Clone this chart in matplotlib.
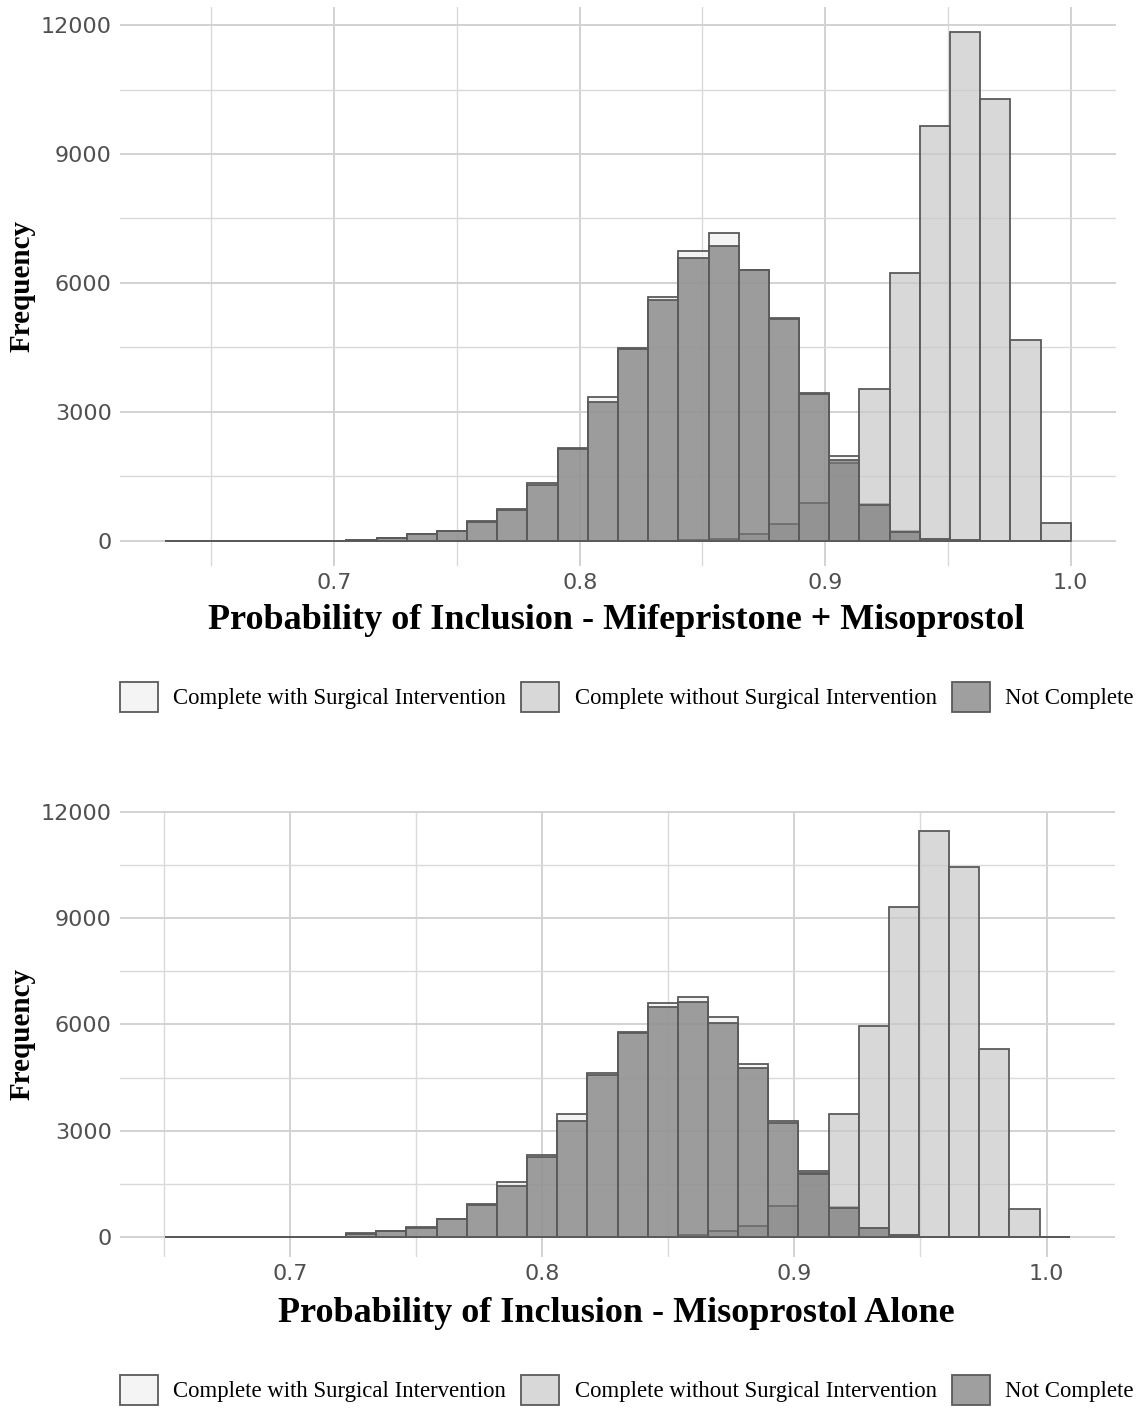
import matplotlib.pyplot as plt
import numpy as np
from matplotlib.colors import to_rgba
from matplotlib.patches import Patch

# 30-bin histogram counts
groups = ['Complete with Surgical Intervention',
          'Complete without Surgical Intervention',
          'Not Complete']

# Mifepristone + Misoprostol
mife_range = (0.6312, 1.0)
mife_surg = [0, 0, 0, 0, 0, 2, 8, 52, 155, 225, 450, 730, 1340, 2150, 3340,
             4480, 5680, 6730, 7160, 6310, 5190, 3440, 1980, 850, 215, 45, 5, 0, 0, 0]
mife_nosurg = [0, 0, 0, 0, 0, 0, 0, 0, 0, 0, 0, 0, 0, 0, 0,
               0, 0, 5, 40, 156, 380, 875, 1800, 3540, 6230, 9660, 11830, 10280, 4680, 410]
mife_notcomp = [0, 0, 0, 0, 0, 2, 8, 50, 150, 220, 440, 720, 1290, 2130, 3220,
                4460, 5610, 6580, 6860, 6290, 5170, 3420, 1880, 830, 210, 45, 5, 0, 0, 0]

# Misoprostol alone
miso_range = (0.6505, 1.0092)
miso_surg = [0, 0, 0, 0, 0, 3, 95, 160, 263, 510, 915, 1540, 2300, 3460, 4630,
             5790, 6600, 6770, 6200, 4890, 3265, 1850, 830, 245, 45, 5, 0, 0, 0, 0]
miso_nosurg = [0, 0, 0, 0, 0, 0, 0, 0, 0, 0, 0, 0, 0, 0, 0,
               0, 0, 40, 170, 300, 860, 1800, 3470, 5950, 9330, 11460, 10450, 5300, 770, 0]
miso_notcomp = [0, 0, 0, 0, 0, 3, 90, 150, 255, 500, 905, 1430, 2250, 3260, 4580,
                5760, 6500, 6640, 6050, 4770, 3220, 1770, 815, 240, 45, 5, 0, 0, 0, 0]

x_major = [0.7, 0.8, 0.9, 1.0]
x_minor = [0.65, 0.75, 0.85, 0.95]
y_major = [0, 3000, 6000, 9000, 12000]
y_minor = [1500, 4500, 7500, 10500]

fills = ['#f0f0f0', '#c8c8c8', '#777777']
alpha = 0.7
edge = '#5a5a5a'
serif = 'Liberation Serif'


def draw_panel(ax, rng, series, xlabel, title_y):
    n = len(series[0])
    edges = np.linspace(rng[0], rng[1], n + 1)
    for counts, fc in zip(series, fills):
        ax.bar(edges[:-1], counts, width=np.diff(edges), align='edge',
               facecolor=to_rgba(fc, alpha), edgecolor=edge, linewidth=1.3)

    xpad = 0.05 * (rng[1] - rng[0])
    ymax = max(max(s) for s in series)
    ax.set_xlim(rng[0] - xpad, rng[1] + xpad)
    ax.set_ylim(-0.05 * ymax, 1.05 * ymax)

    ax.set_xticks(x_major)
    ax.set_xticklabels(['%.1f' % v for v in x_major])
    ax.set_xticks(x_minor, minor=True)
    ax.set_yticks(y_major)
    ax.set_yticks(y_minor, minor=True)
    ax.grid(which='major', color='#d2d2d2', linewidth=1.4)
    ax.grid(which='minor', color='#dadada', linewidth=1.0)
    ax.set_axisbelow(True)
    for s in ax.spines.values():
        s.set_visible(False)
    ax.tick_params(which='both', length=0)
    ax.tick_params(axis='x', pad=5, labelsize=16, labelcolor='#505050')
    ax.tick_params(axis='y', pad=6, labelsize=16, labelcolor='#505050')

    ax.set_ylabel('Frequency', family=serif, fontweight='bold', fontsize=21)
    ax.yaxis.set_label_coords(-0.085, 0.5)
    ax.set_xlabel(xlabel, family=serif, fontweight='bold', fontsize=26)
    ax.xaxis.set_label_coords(0.4985, title_y)


fig = plt.figure(figsize=(11.4, 14.1), dpi=100)
W, H = 1140, 1410

ax1 = fig.add_axes([120 / W, (H - 566) / H, 996 / W, 559 / H])
draw_panel(ax1, mife_range, [mife_surg, mife_nosurg, mife_notcomp],
           'Probability of Inclusion - Mifepristone + Misoprostol', -0.068)

ax2 = fig.add_axes([120 / W, (H - 1257) / H, 995 / W, 446 / H])
draw_panel(ax2, miso_range, [miso_surg, miso_nosurg, miso_notcomp],
           'Probability of Inclusion - Misoprostol Alone', -0.090)

handles = [Patch(facecolor=to_rgba(fc, alpha), edgecolor=edge, linewidth=1.3) for fc in fills]
for yc in (697, 1390):
    fig.legend(handles, groups, loc='center left', bbox_to_anchor=(120 / W, (H - yc) / H),
               ncol=3, frameon=False, prop={'family': serif, 'size': 16.4},
               handlelength=1.65, handleheight=1.65, handletextpad=0.68,
               columnspacing=0.68, borderpad=0, borderaxespad=0)

fig.savefig('out.png', dpi=100)
